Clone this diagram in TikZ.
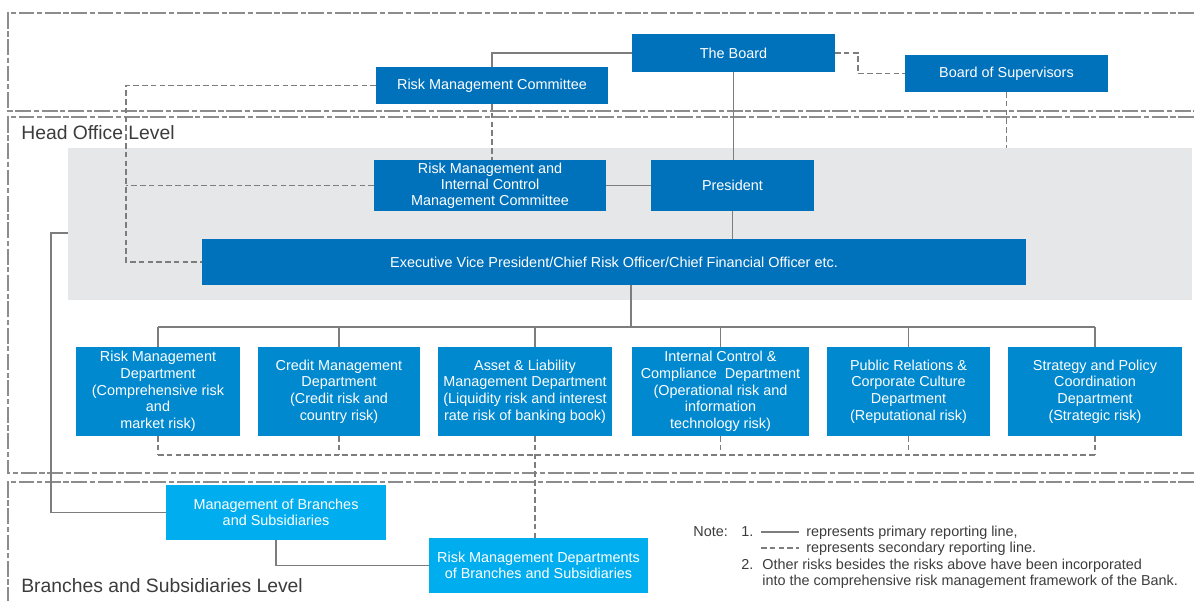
\documentclass[tikz,border=0pt]{standalone}
\usepackage{fontspec}
\setmainfont{Liberation Sans}
\definecolor{boardblue}{RGB}{0,114,188}
\definecolor{deptblue}{RGB}{0,137,207}
\definecolor{branchblue}{RGB}{0,174,239}
\definecolor{zone}{RGB}{230,231,232}
\definecolor{wire}{RGB}{125,125,125}
\definecolor{framegray}{RGB}{140,140,140}
\definecolor{labelgray}{RGB}{60,60,60}
\begin{document}
\begin{tikzpicture}[x=0.02cm,y=-0.02cm,
  spanbox/.style n args={4}{at={({(#1+#3)/2},{(#2+#4)/2})},
     minimum width={(#3-#1)*0.02cm}, minimum height={(#4-#2)*0.02cm}},
  unit/.style={inner sep=0pt, outer sep=0pt, text=white, align=center, font=\fontsize{8.2}{9.5}\selectfont},
  topunit/.style={unit, fill=boardblue},
  deptunit/.style={unit, fill=deptblue},
  branchunit/.style={unit, fill=branchblue},
  primary/.style={draw=wire, line width=0.8pt},
  secondary/.style={draw=wire, line width=0.8pt, dash pattern=on 3.2pt off 1.8pt},
  levelframe/.style={draw=framegray, line width=0.8pt, dash pattern=on 9pt off 1.5pt on 3pt off 1.5pt},
  levelname/.style={anchor=base west, inner sep=0pt, text=labelgray, font=\fontsize{11}{13}\selectfont},
  notetext/.style={anchor=base west, inner sep=0pt, text=labelgray, font=\fontsize{8.2}{9.5}\selectfont}]
\useasboundingbox (0,0) rectangle (1194,601);

% head office zone
\node (ho) [fill=zone, inner sep=0pt, outer sep=0pt, spanbox={68}{148}{1192}{300}] {};

% level frames
\draw[levelframe] (1194,13) -| (8,111) -- (1194,111);
\draw[levelframe] (1194,117) -| (8,473) -- (1194,473);
\draw[levelframe] (1194,482) -| (8,610);

\node (holabel) [levelname] at (21,140) {Head Office Level};
\node (bslabel) [levelname] at (21,592) {Branches and Subsidiaries Level};

% governance and management units
\node (board) [topunit, spanbox={632}{34}{835}{72}] {The Board};
\node (bos)   [topunit, spanbox={905}{55}{1108}{92}] {Board of Supervisors};
\node (rmc)   [topunit, spanbox={376}{67}{608}{104}] {Risk Management Committee};
\node (rmic)  [topunit, spanbox={374}{160}{606}{211}, font=\fontsize{8.2}{9}\selectfont] {Risk Management and\\Internal Control\\Management Committee};
\node (pres)  [topunit, spanbox={651}{160}{814}{211}] {President};
\node (evp)   [topunit, spanbox={202}{239}{1026}{285}] {Executive Vice President/Chief Risk Officer/Chief Financial Officer etc.};

% departments
\node (d1) [deptunit, spanbox={76}{347}{240}{436}] {Risk Management\\Department\\(Comprehensive risk\\and\\market risk)};
\node (d2) [deptunit, spanbox={258}{347}{420}{436}] {Credit Management\\Department\\(Credit risk and\\country risk)};
\node (d3) [deptunit, spanbox={438}{347}{612}{436}] {Asset \& Liability\\Management Department\\(Liquidity risk and interest\\rate risk of banking book)};
\node (d4) [deptunit, spanbox={632}{347}{809}{436}] {Internal Control \&\\Compliance\ \ Department\\(Operational risk and\\information\\technology risk)};
\node (d5) [deptunit, spanbox={827}{347}{990}{436}] {Public Relations \&\\Corporate Culture\\Department\\(Reputational risk)};
\node (d6) [deptunit, spanbox={1008}{347}{1182}{436}] {Strategy and Policy\\Coordination\\Department\\(Strategic risk)};

% branch level
\node (mob)  [branchunit, spanbox={166}{485}{386}{540}] {Management of Branches\\and Subsidiaries};
\node (rmdb) [branchunit, spanbox={429}{538}{648}{593}] {Risk Management Departments\\of Branches and Subsidiaries};

% primary reporting lines
\draw[primary] (rmc.north) |- (board.west);
\draw[primary] (board.south) -- (board.south |- pres.north);
\draw[primary] (rmic.east) -- (pres.west);
\draw[primary] (pres.south) -- (pres.south |- evp.north);
\coordinate (bus) at (631,327);
\draw[primary] (evp.south -| bus) -- (bus);
\coordinate (t1) at (158,327);
\coordinate (t2) at (339,327);
\coordinate (t3) at (535,327);
\coordinate (t4) at (720.5,327);
\coordinate (t5) at (908.5,327);
\coordinate (t6) at (1095,327);
\draw[primary] (t1) -- (t6);
\foreach \i in {1,...,6} \draw[primary] (t\i) -- (t\i |- d\i.north);
\coordinate (hoL) at (68,233);
\draw[primary] (mob.west) -| (51,233) -- (hoL);
\draw[primary] (mob.south) |- (rmdb.west);

% secondary reporting lines
\draw[secondary] (board.east) -- ++(23,0) |- (bos.west);
\draw[secondary] (bos.south) -- (bos.south |- ho.north);
\draw[secondary] (rmc.south) -- (rmc.south |- rmic.north);
\coordinate (dl) at (126,262);
\draw[secondary] (rmc.west) -| (dl) -- (evp.west);
\draw[secondary] (rmic.west) -- (rmic.west -| dl);
\coordinate (s1) at (158,455);
\coordinate (s2) at (339,455);
\coordinate (s3) at (535,455);
\coordinate (s4) at (720.5,455);
\coordinate (s5) at (908.5,455);
\coordinate (s6) at (1095,455);
\draw[secondary] (s1) -- (s6);
\foreach \i in {1,2,4,5,6} \draw[secondary] (s\i |- d\i.south) -- (s\i);
\draw[secondary] (s3 |- d3.south) -- (s3 |- rmdb.north);

% note
\node (note)  [notetext] at (693,536) {Note:};
\node (n1)    [notetext] at (741,536) {1.};
\coordinate (solidA) at (761,532);
\coordinate (solidB) at (799,532);
\draw[primary] (solidA) -- (solidB);
\node (n1a)   [notetext] at (806,536) {represents primary reporting line,};
\coordinate (dashA) at (761,548);
\coordinate (dashB) at (799,548);
\draw[secondary] (dashA) -- (dashB);
\node (n1b)   [notetext] at (806,552) {represents secondary reporting line.};
\node (n2)    [notetext] at (741,569) {2.};
\node (n2a)   [notetext] at (762,569) {Other risks besides the risks above have been incorporated};
\node (n2b)   [notetext] at (762,585) {into the comprehensive risk management framework of the Bank.};
\end{tikzpicture}
\end{document}
